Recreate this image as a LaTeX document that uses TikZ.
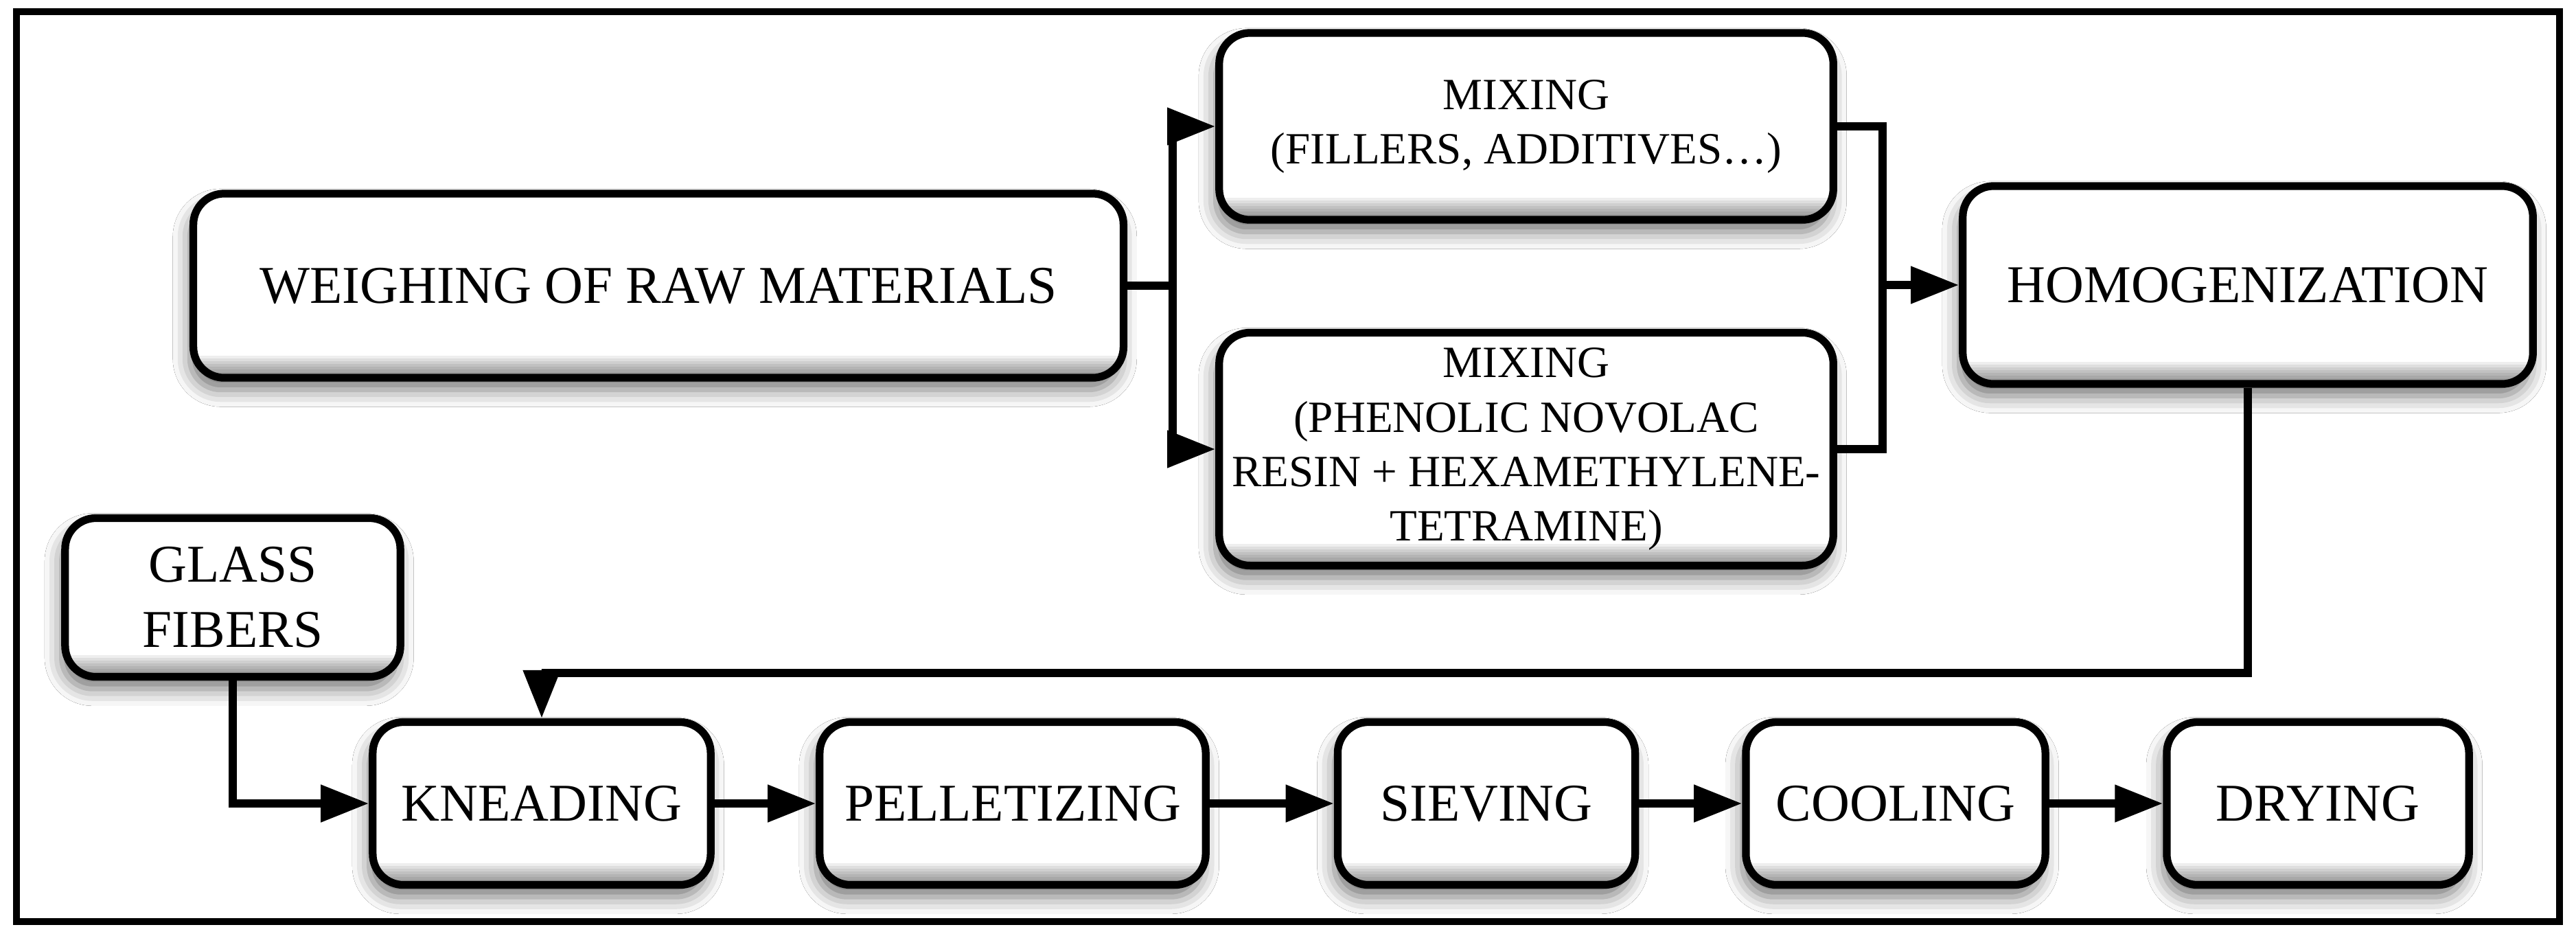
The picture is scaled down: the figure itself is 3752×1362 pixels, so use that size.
\documentclass[tikz,border=0pt]{standalone}
\usepackage{fontspec}
\setmainfont{Liberation Serif}
\usetikzlibrary{arrows.meta,shadows.blur}
\begin{document}
\begin{tikzpicture}[x=0.01cm,y=-0.01cm,
  box/.style={draw=black, line width=3.2pt, rounded corners=0.45cm, fill=white,
    align=center, inner sep=0pt,
    blur shadow={shadow xshift=-1.5pt, shadow yshift=-5pt, shadow blur radius=7pt, shadow opacity=55},
    path picture={\foreach \k in {1,...,8}{\fill[black, opacity=0.065, sharp corners]
      ([yshift=\k*0.04cm]path picture bounding box.south west) rectangle (path picture bounding box.south east);}},
    font=\fontsize{22pt}{27pt}\selectfont},
  mixbox/.style={box, font=\fontsize{18.5pt}{22.5pt}\selectfont},
  conn/.style={line width=3.2pt},
  arr/.style={conn, -{Triangle[length=0.7cm,width=0.52cm]}}]
\useasboundingbox (0,0) rectangle (3752,1362);
\fill[white] (0,0) rectangle (3752,1362);
\draw[line width=2.8pt] (24,17) rectangle (3728,1342);

\node[box, minimum width=13.54cm, minimum height=2.68cm] (weigh) at (959,416) {WEIGHING OF RAW MATERIALS};
\node[mixbox, minimum width=8.94cm, minimum height=2.72cm] (mix1) at (2223,184) {MIXING\\(FILLERS, ADDITIVES…)};
\node[mixbox, minimum width=8.94cm, minimum height=3.39cm] (mix2) at (2223,654) {MIXING\\(PHENOLIC NOVOLAC\\RESIN + HEXAMETHYLENE-\\TETRAMINE)};
\node[box, minimum width=8.30cm, minimum height=2.88cm] (homog) at (3274,415) {HOMOGENIZATION};
\node[box, minimum width=4.88cm, minimum height=2.31cm] (glass) at (339,870) {GLASS\\FIBERS};
\node[box, minimum width=4.92cm, minimum height=2.37cm] (knead) at (789,1170) {KNEADING};
\node[box, minimum width=5.62cm, minimum height=2.37cm] (pellet) at (1475,1170) {PELLETIZING};
\node[box, minimum width=4.33cm, minimum height=2.37cm] (sieve) at (2165,1170) {SIEVING};
\node[box, minimum width=4.36cm, minimum height=2.37cm] (cool) at (2761,1170) {COOLING};
\node[box, minimum width=4.40cm, minimum height=2.37cm] (dry) at (3376,1170) {DRYING};

\coordinate (bx) at (1708,416);
\coordinate (mx) at (2742,415);
\coordinate (fb) at (789,980);

\draw[conn] (weigh.east) -- (bx);
\draw[arr] (bx) |- (mix1.west);
\draw[arr] (bx) |- (mix2.west);
\draw[conn] (mix1.east) -| (mx) |- (mix2.east);
\draw[arr] (mx) -- (homog.west);
\draw[arr] (homog.south) |- (fb) -- (knead.north);
\draw[arr] (glass.south) |- (knead.west);
\draw[arr] (knead) -- (pellet);
\draw[arr] (pellet) -- (sieve);
\draw[arr] (sieve) -- (cool);
\draw[arr] (cool) -- (dry);
\end{tikzpicture}
\end{document}
